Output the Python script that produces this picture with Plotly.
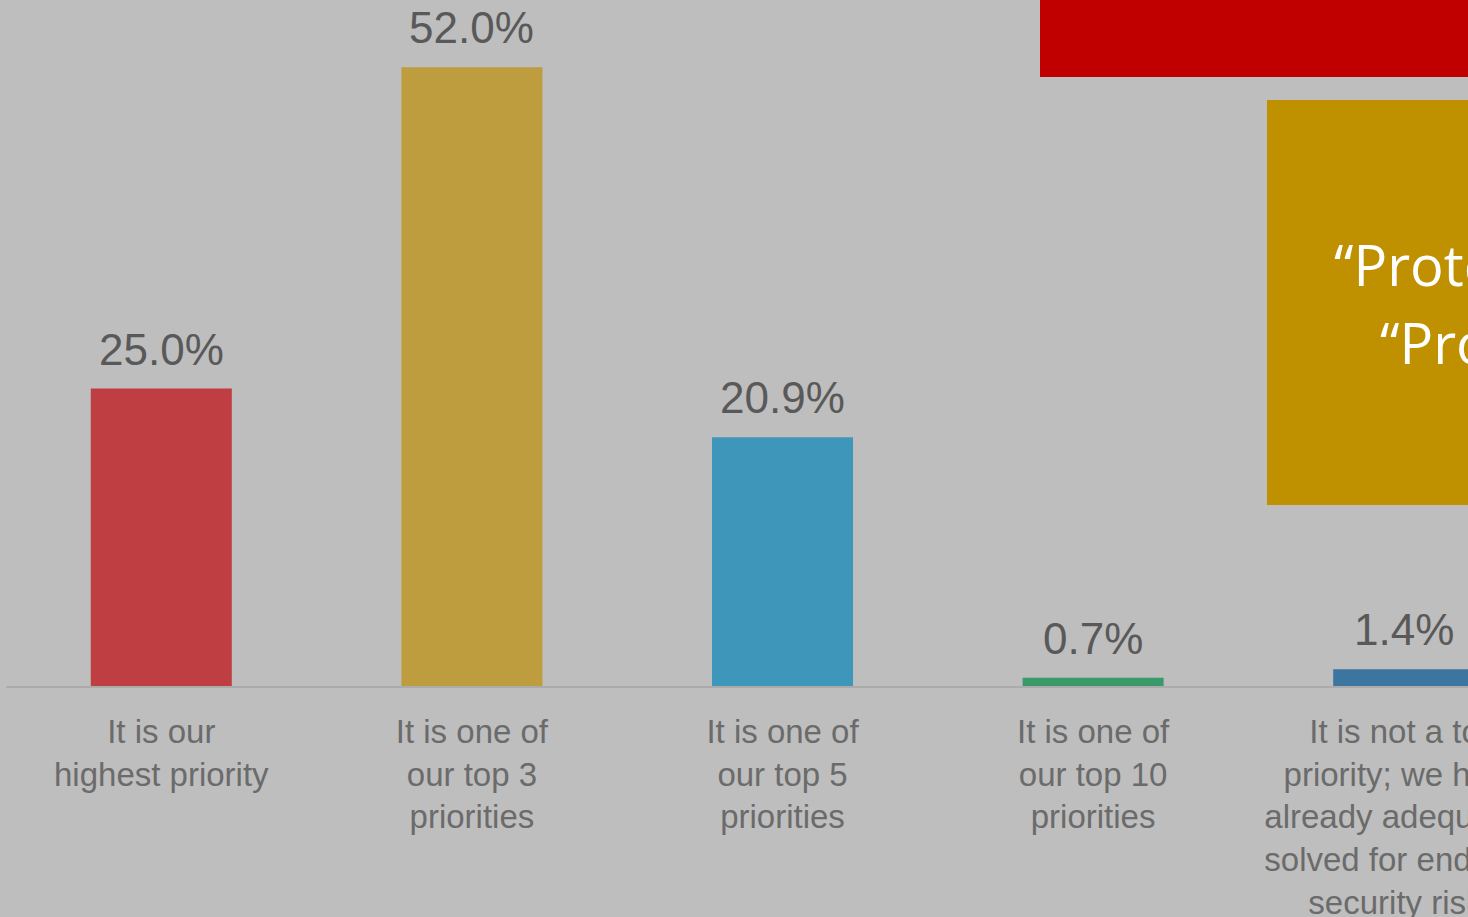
import plotly.graph_objects as go

categories = [
    "It is our<br>highest priority",
    "It is one of<br>our top 3<br>priorities",
    "It is one of<br>our top 5<br>priorities",
    "It is one of<br>our top 10<br>priorities",
    "It is not a top<br>priority; we have<br>already adequately<br>solved for endpoint<br>security risks",
]
values = [25.0, 52.0, 20.9, 0.7, 1.4]
value_labels = ["25.0%", "52.0%", "20.9%", "0.7%", "1.4%"]
bar_colors = ["#BE3E41", "#BE9D3F", "#3E97BA", "#3A9A6A", "#3C75A0"]

BG = "#BEBEBE"
W, H = 1468, 917
PLOT_TOP, PLOT_BOTTOM = 0, 686
PH = PLOT_BOTTOM - PLOT_TOP

xs = list(range(len(categories)))

fig = go.Figure(
    go.Bar(
        x=xs,
        y=values,
        marker=dict(color=bar_colors, line=dict(width=0)),
        hoverinfo="skip",
    )
)

value_annotations = [
    dict(x=x, y=v, xref="x", yref="y", text=t, showarrow=False,
         xanchor="center", yanchor="bottom", yshift=13,
         font=dict(family="Liberation Sans, Arial", size=44, color="#595959"))
    for x, v, t in zip(xs, values, value_labels)
]

fig.update_layout(
    width=W,
    height=H,
    margin=dict(l=6, r=0, t=PLOT_TOP, b=H - PLOT_BOTTOM, autoexpand=False),
    paper_bgcolor=BG,
    plot_bgcolor=BG,
    bargap=0.546,
    showlegend=False,
    xaxis=dict(
        range=[-0.5, 4.207],
        tickmode="array",
        tickvals=xs,
        ticktext=categories,
        tickfont=dict(family="Liberation Sans, Arial", size=33, color="#6B6B6B"),
        ticklabeloverflow="allow",
        automargin=False,
        showgrid=False,
        zeroline=False,
        showline=True,
        linecolor="#ABABAB",
        linewidth=2,
        ticks="outside",
        ticklen=15,
        tickcolor="rgba(0,0,0,0)",
    ),
    yaxis=dict(
        range=[0, 57.65],
        visible=False,
        automargin=False,
        showgrid=False,
        zeroline=False,
    ),
    shapes=[
        dict(type="rect", xref="paper", yref="paper",
             x0=(1040 - 6) / (W - 6), x1=1.2, y0=(PH - 77) / PH, y1=1.0,
             fillcolor="#C00000", line=dict(width=0), layer="above"),
        dict(type="rect", xref="paper", yref="paper",
             x0=(1267 - 6) / (W - 6), x1=1.2, y0=(PH - 505) / PH, y1=(PH - 100) / PH,
             fillcolor="#BF9000", line=dict(width=0), layer="above"),
    ],
    annotations=value_annotations + [
        dict(xref="paper", yref="paper", x=(1332 - 6) / (W - 6), y=(PH - 264) / PH,
             xanchor="left", yanchor="middle", showarrow=False,
             text="“Protecting endpoints”",
             font=dict(family="Open Sans, Lato", size=56, color="white")),
        dict(xref="paper", yref="paper", x=(1378 - 6) / (W - 6), y=(PH - 342) / PH,
             xanchor="left", yanchor="middle", showarrow=False,
             text="“Protecting data”",
             font=dict(family="Open Sans, Lato", size=56, color="white")),
    ],
)

fig.write_html("out.html")
